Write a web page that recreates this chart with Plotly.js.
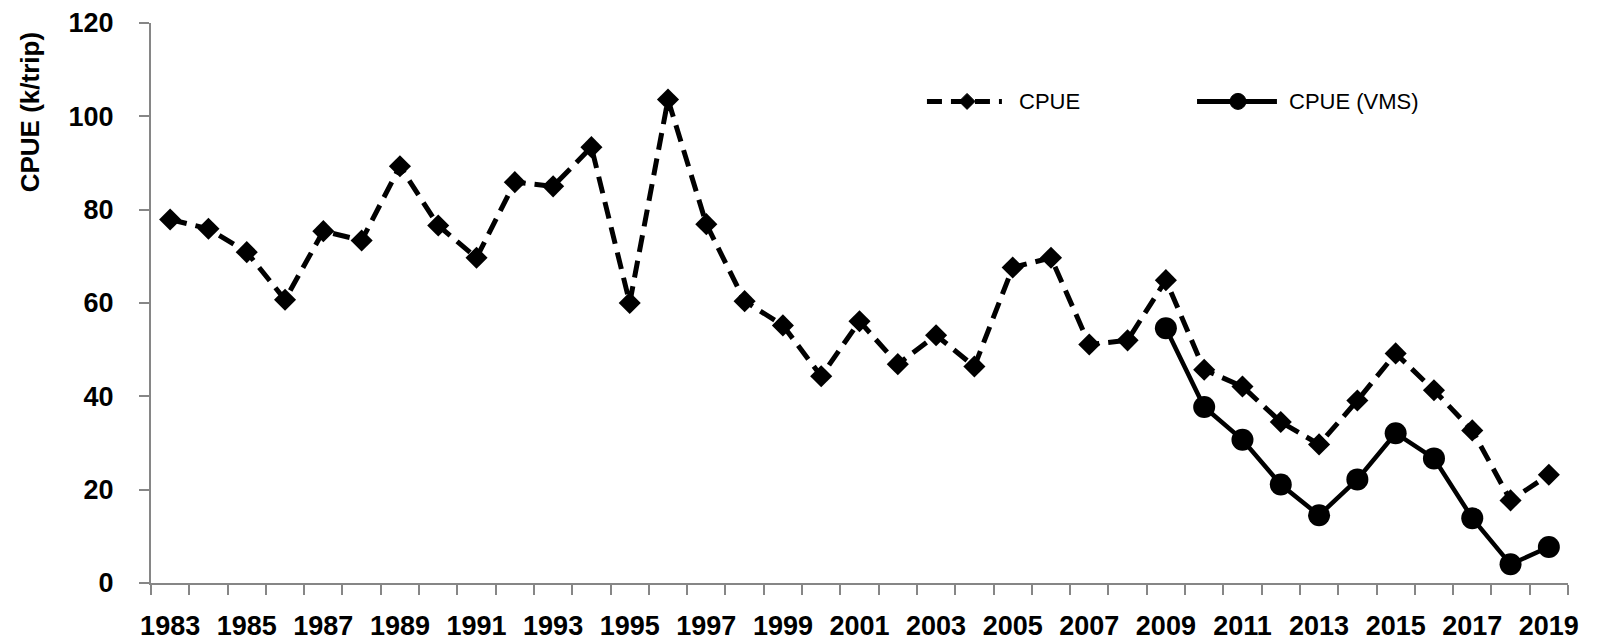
<!DOCTYPE html>
<html>
<head>
<meta charset="utf-8">
<script src="https://cdn.plot.ly/plotly-3.0.1.min.js"></script>
<style>html,body{margin:0;padding:0;background:#fff;}#chart{width:1597px;height:644px;}</style>
</head>
<body>
<div id="chart"></div>
<script>
const years = [1983,1984,1985,1986,1987,1988,1989,1990,1991,1992,1993,1994,1995,1996,1997,1998,1999,2000,2001,2002,2003,2004,2005,2006,2007,2008,2009,2010,2011,2012,2013,2014,2015,2016,2017,2018,2019];
const cpue = [77.9,75.9,70.9,60.7,75.4,73.4,89.3,76.6,69.7,85.9,85.0,93.4,60.0,103.6,76.9,60.4,55.2,44.3,56.1,46.9,53.1,46.4,67.6,69.7,51.1,52.0,64.9,45.7,42.1,34.5,29.7,39.1,49.2,41.3,32.7,17.7,23.2];
const vmsYears = [2009,2010,2011,2012,2013,2014,2015,2016,2017,2018,2019];
const cpueVms = [54.6,37.7,30.7,21.1,14.5,22.2,32.1,26.7,13.9,4.0,7.7];
const xTickYears = [1983,1985,1987,1989,1991,1993,1995,1997,1999,2001,2003,2005,2007,2009,2011,2013,2015,2017,2019];
const xTickLabels = xTickYears.map(String);
const yTicks = [0,20,40,60,80,100,120];
const seriesNames = ['CPUE','CPUE (VMS)'];
const yTitle = 'CPUE (k/trip)';

const axisColor = '#868686';
const traces = [
  {x: years, y: cpue, name: seriesNames[0], type: 'scatter', mode: 'lines+markers',
   line: {color: '#000', width: 5, dash: '17px,9px'},
   marker: {symbol: 'diamond', size: 17, color: '#000'}, showlegend: false},
  {x: vmsYears, y: cpueVms, name: seriesNames[1], type: 'scatter', mode: 'lines+markers',
   line: {color: '#000', width: 4.5},
   marker: {symbol: 'circle', size: 22, color: '#000'}, showlegend: false}
];

// custom legend (paper coordinates)
const lgY = 0.860;
const shapes = [
  {type: 'line', xref: 'paper', yref: 'paper', x0: 0.5476, x1: 0.6005, y0: lgY, y1: lgY,
   line: {color: '#000', width: 5, dash: '15px,9px'}},
  {type: 'path', xref: 'paper', yref: 'paper', xsizemode: 'pixel', ysizemode: 'pixel',
   xanchor: 0.5759, yanchor: lgY, path: 'M -8 0 L 0 8 L 8 0 L 0 -8 Z',
   fillcolor: '#000', line: {color: '#000', width: 1}},
  {type: 'line', xref: 'paper', yref: 'paper', x0: 0.7382, x1: 0.7946, y0: lgY, y1: lgY,
   line: {color: '#000', width: 5}},
  {type: 'circle', xref: 'paper', yref: 'paper', xsizemode: 'pixel', ysizemode: 'pixel',
   xanchor: 0.7671, yanchor: lgY, x0: -8, x1: 8, y0: -8, y1: 8,
   fillcolor: '#000', line: {color: '#000', width: 1}}
];
const annotations = [
  {xref: 'paper', yref: 'paper', x: 0.6112, y: lgY, xanchor: 'left', yanchor: 'middle',
   text: seriesNames[0], showarrow: false, font: {family: 'Liberation Sans', size: 22, color: '#000'}},
  {xref: 'paper', yref: 'paper', x: 0.8017, y: lgY, xanchor: 'left', yanchor: 'middle',
   text: seriesNames[1], showarrow: false, font: {family: 'Liberation Sans', size: 22, color: '#000'}},
  {xref: 'paper', yref: 'paper', x: -0.0854, y: 0.8405, xanchor: 'center', yanchor: 'middle',
   text: yTitle, textangle: -90, showarrow: false,
   font: {family: 'Liberation Sans', size: 26, weight: 'bold', color: '#000'}}
];

const layout = {
  width: 1597, height: 644,
  margin: {l: 151, r: 29, t: 23, b: 61, pad: 0},
  paper_bgcolor: '#fff', plot_bgcolor: '#fff',
  showlegend: false,
  xaxis: {
    type: 'linear', range: [1982.5, 2019.5],
    tickmode: 'array', tickvals: xTickYears, ticktext: xTickLabels,
    ticks: '', ticklabelstandoff: 18,
    minor: {tick0: 1982.5, dtick: 1, ticks: 'outside', ticklen: 10, tickwidth: 2, tickcolor: axisColor, showgrid: false},
    showline: true, linecolor: axisColor, linewidth: 2,
    showgrid: false, zeroline: false,
    tickfont: {family: 'Liberation Sans', size: 27, weight: 'bold', color: '#000'}
  },
  yaxis: {
    range: [0, 120], tickmode: 'array', tickvals: yTicks,
    ticks: 'outside', ticklen: 10, tickwidth: 2, tickcolor: axisColor,
    ticklabelstandoff: 20,
    showline: true, linecolor: axisColor, linewidth: 2,
    showgrid: false, zeroline: false,
    tickfont: {family: 'Liberation Sans', size: 27, weight: 'bold', color: '#000'}
  },
  shapes: shapes,
  annotations: annotations
};

Plotly.newPlot('chart', traces, layout, {displayModeBar: false, staticPlot: true});
</script>
</body>
</html>
